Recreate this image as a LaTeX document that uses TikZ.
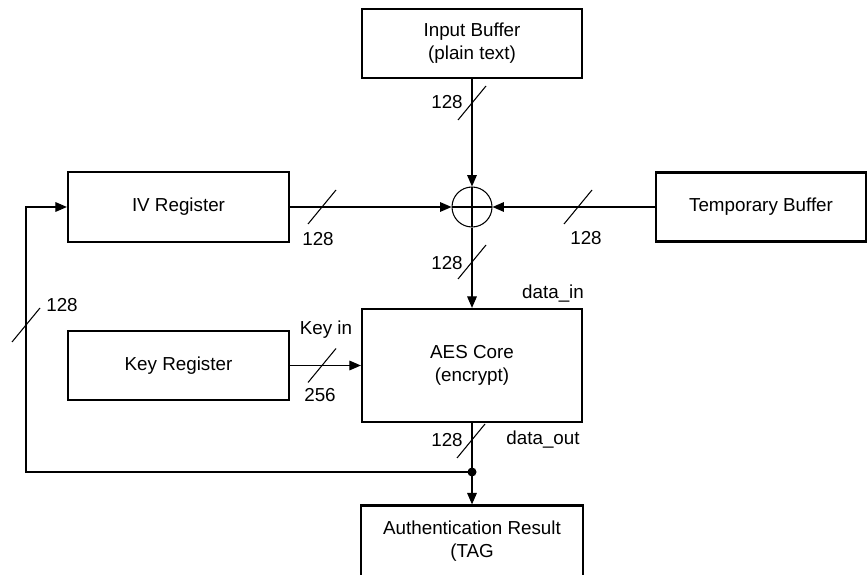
\documentclass[tikz,border=0pt]{standalone}
\usepackage{fontspec}
\setmainfont{Liberation Sans}
\usepackage{tikz}
\usetikzlibrary{positioning, arrows.meta, calc}

\begin{document}
\begin{tikzpicture}[>={Triangle[length=6.5pt, width=5.5pt]},
    every node/.style={align=center, font=\fontsize{10.7}{13}\selectfont},
    block/.style={draw, line width=1.3pt, minimum height=1.38cm, inner sep=0pt},
    link/.style={line width=0.6pt},
    pics/busmark/.style={code={\draw[line width=0.6pt] (-0.28,-0.34) -- (0.28,0.34);}}]
    \useasboundingbox (0,0) rectangle (17.36,-11.5);
    % Input buffer
    \node[block, minimum width=4.4cm] (inbuf) at (9.44,-0.87) {Input Buffer\\(plain text)};
    % IV register
    \node[block, minimum width=4.42cm, minimum height=1.4cm] (iv) at (3.57,-4.14) {IV Register};
    % Temporary buffer
    \node[block, minimum width=4.2cm] (tmp) at (15.22,-4.14) {Temporary Buffer};
    % XOR
    \node[draw, circle, line width=0.6pt, minimum size=0.8cm, inner sep=0pt,
        path picture={\draw[line width=0.6pt] (path picture bounding box.north) -- (path picture bounding box.south)
            (path picture bounding box.west) -- (path picture bounding box.east);}] (xor) at (9.44,-4.14) {};
    % AES core
    \node[block, minimum width=4.4cm, minimum height=2.26cm] (aes) at (9.44,-7.31) {AES Core\\(encrypt)};
    % Key register
    \node[block, minimum width=4.42cm] (key) at (3.57,-7.31) {Key Register};
    % Authentication result
    \node[block, minimum width=4.44cm, minimum height=1.42cm] (auth) at (9.44,-10.82) {Authentication Result\\(TAG};
    % Datapath
    \draw[link, ->] (inbuf) -- (xor);
    \draw[link, ->] (iv) -- (xor);
    \draw[link, ->] (tmp) -- (xor);
    \draw[link, ->] (xor) -- (aes);
    \draw[link, ->] (key) -- (aes);
    \draw[link, ->] (aes) -- (auth);
    % Feedback to IV
    \coordinate (split) at (9.44,-9.44);
    \coordinate (fbcorner) at (0.52,-9.44);
    \fill (split) circle (0.09);
    \draw[link, ->] (split) -- (fbcorner) |- (iv.west);
    % Bus widths
    \pic at (9.44,-2.06) {busmark};
    \node (wIn) at (8.94,-2.04) {128};
    \pic at (6.44,-4.14) {busmark};
    \node (wIv) at (6.36,-4.78) {128};
    \pic at (11.56,-4.14) {busmark};
    \node (wTmp) at (11.72,-4.76) {128};
    \pic at (9.44,-5.24) {busmark};
    \node (wXor) at (8.94,-5.26) {128};
    \node (datain) at (11.06,-5.88) {data\_in};
    \pic at (6.44,-7.31) {busmark};
    \node (keyin) at (6.52,-6.6) {Key in};
    \node (wKey) at (6.4,-7.9) {256};
    \pic at (9.42,-8.82) {busmark};
    \node (wOut) at (8.94,-8.8) {128};
    \node (dataout) at (10.86,-8.8) {data\_out};
    \pic at (0.52,-6.5) {busmark};
    \node (wFb) at (1.24,-6.1) {128};
\end{tikzpicture}
\end{document}
